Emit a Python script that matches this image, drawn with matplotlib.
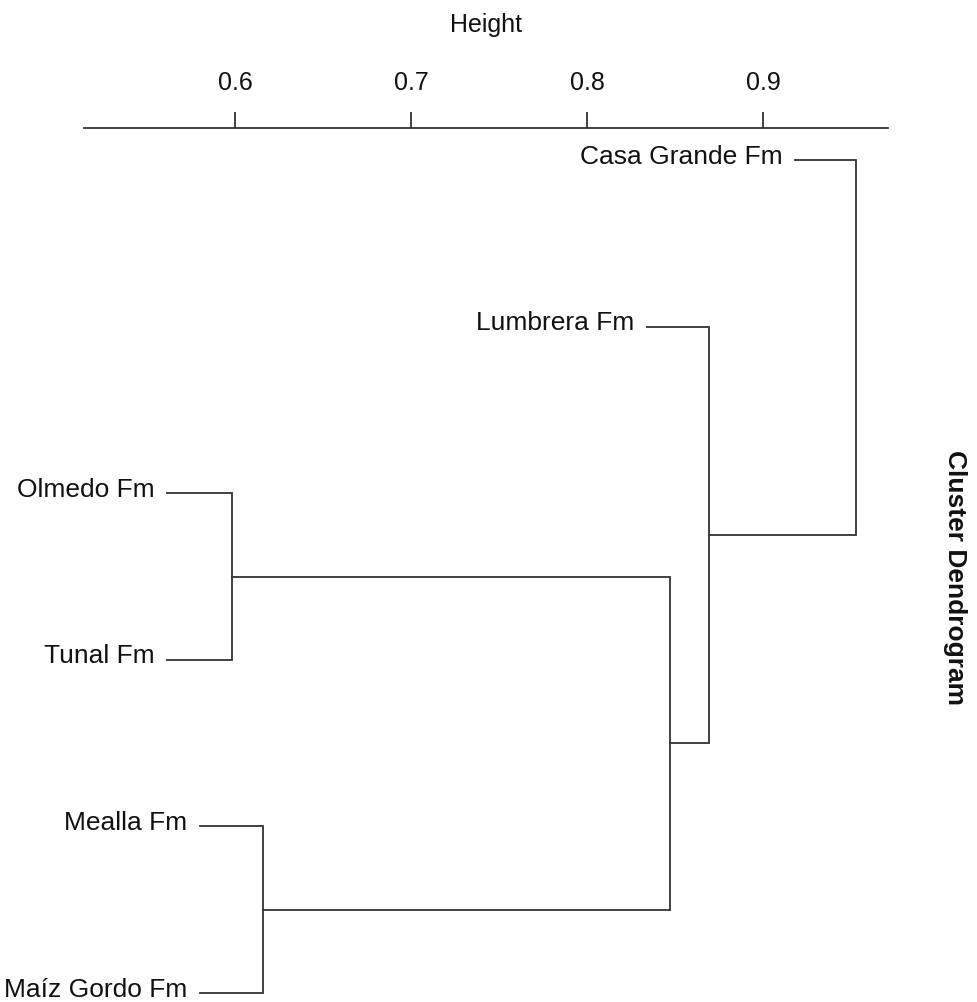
import numpy as np
import matplotlib
matplotlib.use("Agg")
from matplotlib import pyplot as plt

plt.rcParams['font.family'] = ['Liberation Sans', 'DejaVu Sans']

# leaves, top to bottom
labels = ["Casa Grande Fm", "Lumbrera Fm", "Olmedo Fm", "Tunal Fm", "Mealla Fm", "Maíz Gordo Fm"]
leaf_height = [0.918, 0.834, 0.561, 0.561, 0.580, 0.580]

# merges: (child a, child b, height); negative = leaf index (-1 -> leaf 0), >=0 = earlier merge
merge_a = [-3, -5, 0, -2, -1]
merge_b = [-4, -6, 1, 2, 3]
merge_h = [0.598, 0.616, 0.847, 0.869, 0.953]

ticks = [0.6, 0.7, 0.8, 0.9]

W, H = 977, 1002
fig = plt.figure(figsize=(W / 100, H / 100), dpi=100)
ax = fig.add_axes([84 / W, 0, (888 - 84) / W, (H - 128) / H])

col = "#333333"
lw = 1.3

ypos = np.arange(1, len(labels) + 1)

node_y = []
node_x = []

def child(c):
    if c < 0:
        return ypos[-c - 1], leaf_height[-c - 1]
    return node_y[c], node_x[c]

for a, b, h in zip(merge_a, merge_b, merge_h):
    ya, xa = child(a)
    yb, xb = child(b)
    ax.plot([xa, h, h, xb], [ya, ya, yb, yb], color=col, lw=lw, solid_joinstyle="miter")
    node_y.append((ya + yb) / 2)
    node_x.append(h)

for y, x, lab in zip(ypos, leaf_height, labels):
    ax.annotate(lab, (x, y), xytext=(-9, 2.5), textcoords="offset points",
                ha="right", va="center", fontsize=19, color="#111111")

ax.set_xlim(0.514, 0.971)
ax.set_ylim(1 + (H - 160) / 166.6, 1 - 32 / 166.6)

for s in ["bottom", "left", "right"]:
    ax.spines[s].set_visible(False)
ax.spines["top"].set_color(col)
ax.spines["top"].set_linewidth(lw)
ax.set_yticks([])
ax.xaxis.set_ticks_position("top")
ax.xaxis.set_label_position("top")
ax.set_xticks(ticks)
ax.set_xticklabels([f"{t:.1f}" for t in ticks])
ax.tick_params(axis="x", direction="out", length=11.5, width=lw, color=col,
               labelsize=18, pad=12, labelcolor="#111111")
ax.set_xlabel("Height", fontsize=18, labelpad=28, color="#111111")

fig.text(955 / W, 1 - 577 / H, "Cluster Dendrogram", rotation=270, ha="center", va="center",
         fontsize=19, fontweight="bold", color="#111111")

fig.savefig("out.png", dpi=100)
